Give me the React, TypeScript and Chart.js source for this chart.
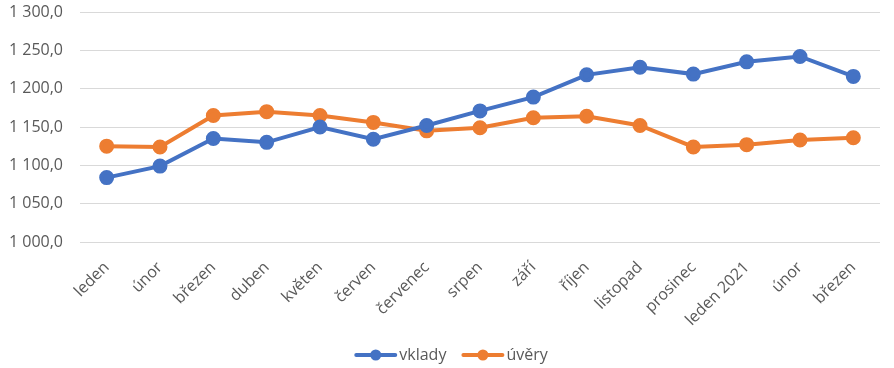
import React, { useEffect, useRef } from "react";
import { Chart, registerables } from "chart.js";

Chart.register(...registerables);

const categories = [
  "leden", "únor", "březen", "duben", "květen", "červen", "červenec", "srpen",
  "září", "říjen", "listopad", "prosinec", "leden 2021", "únor", "březen",
];
const vklady = [1084, 1099, 1135, 1130, 1150, 1134, 1152, 1171, 1189, 1218, 1228, 1219, 1235, 1242, 1216];
const uvery = [1125, 1124, 1165, 1170, 1165, 1156, 1145, 1149, 1162, 1164, 1152, 1124, 1127, 1133, 1136];
const yMin = 1000;
const yMax = 1300;
const yStep = 50;

const BLUE = "#4472C4";
const ORANGE = "#ED7D31";
const TEXT = "#595959";
const FONT = "'Open Sans', 'Liberation Sans', sans-serif";

function fmt(v: number): string {
  const s = v.toFixed(1).replace(".", ",");
  const [i, d] = s.split(",");
  const withSpace = i.replace(/\B(?=(\d{3})+(?!\d))/g, " ");
  return withSpace + "," + d;
}

const legendPlugin = {
  id: "customLegend",
  afterDraw(chart: any) {
    const ctx = chart.ctx as CanvasRenderingContext2D;
    const ds = chart.data.datasets;
    const iconW = 43;
    const gap = 2;
    const itemGap = 15;
    ctx.save();
    ctx.font = `16px ${FONT}`;
    const widths = ds.map((d: any) => ctx.measureText(d.label).width);
    let total = 0;
    widths.forEach((w: number, i: number) => {
      total += iconW + gap + w + (i < widths.length - 1 ? itemGap : 0);
    });
    let x = chart.width / 2 + 4 - total / 2;
    const y = 355;
    ds.forEach((d: any, i: number) => {
      const c = d.borderColor;
      ctx.strokeStyle = c;
      ctx.lineWidth = 4;
      ctx.lineCap = "round";
      ctx.beginPath();
      ctx.moveTo(x + 2, y);
      ctx.lineTo(x + iconW - 2, y);
      ctx.stroke();
      ctx.fillStyle = c;
      ctx.beginPath();
      ctx.arc(x + iconW / 2, y, 5.5, 0, Math.PI * 2);
      ctx.fill();
      ctx.fillStyle = TEXT;
      ctx.textBaseline = "middle";
      ctx.textAlign = "left";
      ctx.fillText(d.label, x + iconW + gap, y);
      x += iconW + gap + widths[i] + itemGap;
    });
    ctx.restore();
  },
};

export default function App() {
  const ref = useRef<HTMLCanvasElement>(null);
  useEffect(() => {
    document.body.style.margin = "0";
    const chart = new Chart(ref.current!, {
      type: "line",
      data: {
        labels: categories,
        datasets: [
          {
            label: "vklady",
            data: vklady,
            borderColor: BLUE,
            backgroundColor: BLUE,
            borderWidth: 4,
            pointRadius: 5.5,
            pointBackgroundColor: BLUE,
            pointBorderColor: BLUE,
            tension: 0,
          },
          {
            label: "úvěry",
            data: uvery,
            borderColor: ORANGE,
            backgroundColor: ORANGE,
            borderWidth: 4,
            pointRadius: 5.5,
            pointBackgroundColor: ORANGE,
            pointBorderColor: ORANGE,
            tension: 0,
          },
        ],
      },
      options: {
        animation: false,
        responsive: false,
        maintainAspectRatio: false,
        layout: { padding: { top: 12, right: 14, bottom: 0, left: 0 } },
        scales: {
          x: {
            offset: true,
            grid: { display: false, drawTicks: false },
            border: { display: false },
            ticks: {
              color: TEXT,
              font: { family: FONT, size: 16 },
              minRotation: 45,
              maxRotation: 45,
              autoSkip: false,
              padding: 16,
            },
            afterFit: (s: any) => {
              s.height = 126;
            },
          },
          y: {
            min: yMin,
            max: yMax,
            grid: { color: "#D9D9D9", lineWidth: 1, drawTicks: false },
            border: { display: false },
            ticks: {
              stepSize: yStep,
              color: TEXT,
              font: { family: FONT, size: 16 },
              padding: 17,
              callback: (v: any) => fmt(Number(v)),
            },
            afterFit: (s: any) => {
              s.width = 80;
              s.paddingTop = 0;
              s.paddingBottom = 0;
            },
          },
        },
        plugins: {
          tooltip: { enabled: false },
          legend: { display: false },
        },
      },
      plugins: [legendPlugin],
    });
    return () => chart.destroy();
  }, []);
  return (
    <div style={{ width: 894, height: 368 }}>
      <canvas ref={ref} width={894} height={368} style={{ width: 894, height: 368, display: "block" }} />
    </div>
  );
}
